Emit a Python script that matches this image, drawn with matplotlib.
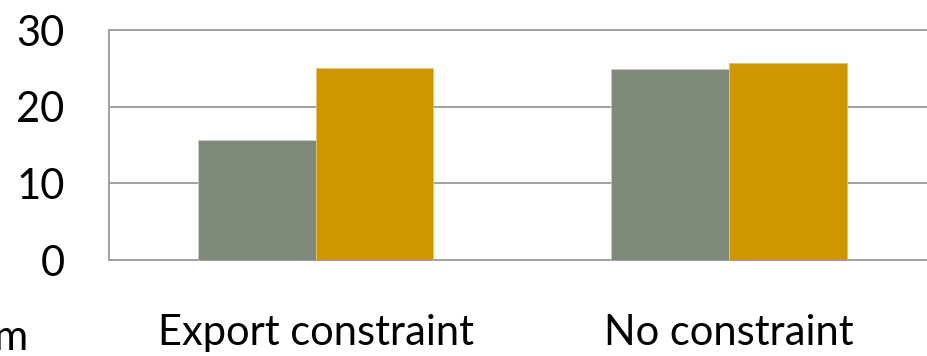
import matplotlib
matplotlib.use("Agg")
import matplotlib.pyplot as plt
import numpy as np

# Data
categories = ["Export constraint", "No constraint"]
series_grey = [15.6, 24.9]
series_gold = [25.0, 25.7]
yticks = [0, 10, 20, 30]

plt.rcParams['font.family'] = ['Lato', 'DejaVu Sans']

fig = plt.figure(figsize=(9.27, 3.56), dpi=100)
ax = fig.add_axes([109 / 927, 96 / 356, 1 - 109 / 927, 230 / 356])

x = np.arange(len(categories))
w = 0.285
ax.bar(x - w / 2, series_grey, w, color='#7f897a', edgecolor='#c9cdc6', linewidth=0.6, zorder=3)
ax.bar(x + w / 2, series_gold, w, color='#d09600', edgecolor='#e3c36a', linewidth=0.6, zorder=3)

ax.set_xlim(-0.5, 1.479)
ax.set_ylim(0, 30)
ax.set_yticks(yticks)
ax.set_xticks(x)
ax.set_xticklabels(categories)
ax.tick_params(axis='y', length=0, pad=32, labelsize=30)
ax.tick_params(axis='x', length=0, pad=39, labelsize=30)

ax.grid(axis='y', color='#a0a0a0', linewidth=1.4, zorder=0)
for side in ['top', 'bottom', 'left']:
    ax.spines[side].set_color('#a0a0a0')
    ax.spines[side].set_linewidth(1.4)
ax.spines['right'].set_visible(False)

# label of the category cut off on the left
fig.text(27 / 927, 6 / 356, 'm', ha='right', va='baseline', fontsize=30)

fig.savefig('out.png', dpi=100)
